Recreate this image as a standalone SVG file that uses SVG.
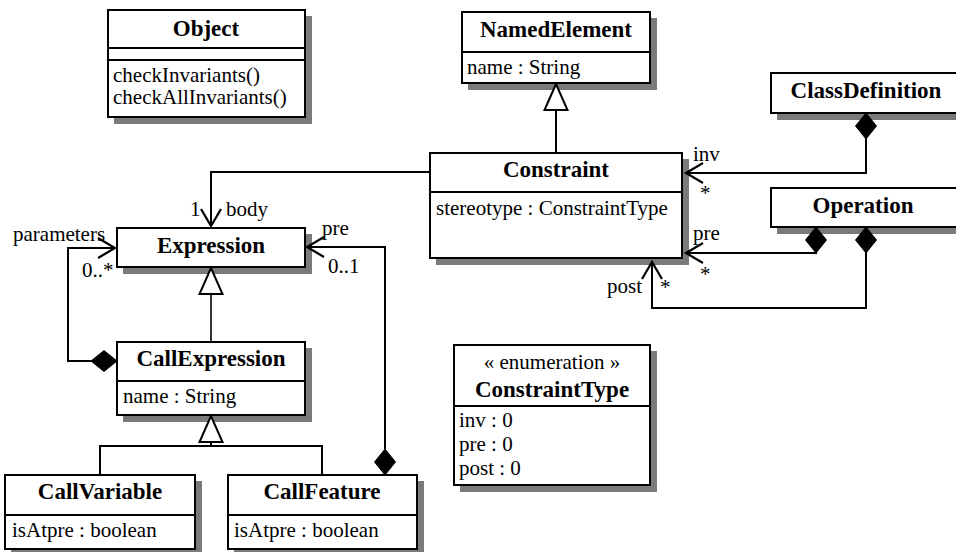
<svg xmlns="http://www.w3.org/2000/svg" width="956" height="552" viewBox="0 0 956 552">
<style>
.shd{fill:#7a7a7a;stroke:none}
.box{fill:#ffffff;stroke:#000000;stroke-width:2}
.sep{stroke:#000000;stroke-width:2}
.t{font-family:"Liberation Serif","Times New Roman",serif;font-size:21px;fill:#000000}
.b{font-weight:bold;font-size:23px;text-anchor:middle}
.m{text-anchor:middle}
.edge{fill:none;stroke:#000000;stroke-width:2}
.thin{stroke-width:1.6}
</style>
<defs>
<marker id="arrow" markerUnits="userSpaceOnUse" orient="auto" overflow="visible" markerWidth="20" markerHeight="22" refX="0" refY="0">
<path d="M-17,-10 L0,0 L-17,10" fill="none" stroke="#000" stroke-width="2.2"/>
</marker>
<marker id="diamond" markerUnits="userSpaceOnUse" orient="auto" overflow="visible" markerWidth="28" markerHeight="24" refX="0" refY="0">
<path d="M0,0 L13,-10.5 L26,0 L13,10.5 Z" fill="#000" stroke="#000" stroke-width="1"/>
</marker>
<marker id="tri" markerUnits="userSpaceOnUse" orient="auto" overflow="visible" markerWidth="28" markerHeight="26" refX="0" refY="0">
<path d="M0,0 L-26,-11.5 L-26,11.5 Z" fill="#fff" stroke="#000" stroke-width="2"/>
</marker>
</defs>

<g id="Object">
<rect class="shd" x="114" y="16" width="198" height="108"/>
<rect class="box" x="108" y="10" width="197" height="107"/>
<line class="sep" x1="108" y1="48" x2="305" y2="48"/>
<line class="sep" x1="108" y1="60" x2="305" y2="60"/>
<text class="t b" x="206" y="36">Object</text>
<text class="t" x="113" y="82">checkInvariants()</text>
<text class="t" x="113" y="104">checkAllInvariants()</text>
</g>

<g id="NamedElement">
<rect class="shd" x="468" y="18" width="189" height="72"/>
<rect class="box" x="462" y="12" width="188" height="71"/>
<line class="sep" x1="462" y1="52" x2="650" y2="52"/>
<text class="t b" x="556" y="37">NamedElement</text>
<text class="t" x="467" y="74">name : String</text>
</g>

<g id="ClassDefinition">
<rect class="shd" x="777" y="79" width="190" height="41"/>
<rect class="box" x="771" y="73" width="192" height="40"/>
<text class="t b" x="866" y="98">ClassDefinition</text>
</g>

<g id="Operation">
<rect class="shd" x="777" y="194" width="190" height="40"/>
<rect class="box" x="771" y="188" width="192" height="39"/>
<text class="t b" x="863" y="213">Operation</text>
</g>

<g id="Constraint">
<rect class="shd" x="436" y="159" width="253" height="106"/>
<rect class="box" x="430" y="153" width="252" height="105"/>
<line class="sep" x1="430" y1="192" x2="682" y2="192"/>
<text class="t b" x="556" y="177">Constraint</text>
<text class="t" x="436" y="215">stereotype : ConstraintType</text>
</g>

<g id="Expression">
<rect class="shd" x="123" y="234" width="189" height="40"/>
<rect class="box" x="117" y="228" width="188" height="39"/>
<text class="t b" x="211" y="253">Expression</text>
</g>

<g id="CallExpression">
<rect class="shd" x="123" y="348" width="189" height="74"/>
<rect class="box" x="117" y="342" width="188" height="73"/>
<line class="sep" x1="117" y1="381" x2="305" y2="381"/>
<text class="t b" x="211" y="366">CallExpression</text>
<text class="t" x="123" y="403">name : String</text>
</g>

<g id="CallVariable">
<rect class="shd" x="11" y="481" width="191" height="75"/>
<rect class="box" x="5" y="475" width="190" height="74"/>
<line class="sep" x1="5" y1="515" x2="195" y2="515"/>
<text class="t b" x="100" y="499">CallVariable</text>
<text class="t" x="12" y="537">isAtpre : boolean</text>
</g>

<g id="CallFeature">
<rect class="shd" x="234" y="481" width="190" height="75"/>
<rect class="box" x="228" y="475" width="189" height="74"/>
<line class="sep" x1="228" y1="515" x2="417" y2="515"/>
<text class="t b" x="322" y="499">CallFeature</text>
<text class="t" x="234" y="537">isAtpre : boolean</text>
</g>

<g id="ConstraintType">
<rect class="shd" x="460" y="351" width="197" height="141"/>
<rect class="box" x="454" y="345" width="196" height="140"/>
<line class="sep" x1="454" y1="406" x2="650" y2="406"/>
<text class="t m" x="552" y="369">« enumeration »</text>
<text class="t b" x="552" y="397">ConstraintType</text>
<text class="t" x="459" y="427">inv : 0</text>
<text class="t" x="459" y="451">pre : 0</text>
<text class="t" x="459" y="475">post : 0</text>
</g>

<g id="connectors">
<path class="edge" d="M556,153 V84" marker-end="url(#tri)"/>
<path class="edge" d="M430,172 H211 V226" marker-end="url(#arrow)"/>
<path class="edge" d="M866,113 V173 H686" marker-start="url(#diamond)" marker-end="url(#arrow)"/>
<path class="edge" d="M816,227 V253 H686" marker-start="url(#diamond)" marker-end="url(#arrow)"/>
<path class="edge" d="M866,227 V308 H652 V262" marker-start="url(#diamond)" marker-end="url(#arrow)"/>
<path class="edge thin" d="M211,342 V268" marker-end="url(#tri)"/>
<path class="edge" d="M117,361 H68 V248 H115" marker-start="url(#diamond)" marker-end="url(#arrow)"/>
<path class="edge" d="M100,475 V446 H322 V475"/>
<path class="edge" d="M211,446 V416" marker-end="url(#tri)"/>
<path class="edge" d="M385,475 V247 H307" marker-start="url(#diamond)" marker-end="url(#arrow)"/>
<text class="t" x="190" y="216">1</text>
<text class="t" x="226" y="216">body</text>
<text class="t" x="13" y="241">parameters</text>
<text class="t" x="82" y="277">0..*</text>
<text class="t" x="322" y="235">pre</text>
<text class="t" x="328" y="273">0..1</text>
<text class="t" x="693" y="161">inv</text>
<text class="t" x="700" y="200">*</text>
<text class="t" x="693" y="240">pre</text>
<text class="t" x="700" y="281">*</text>
<text class="t" x="607" y="293">post</text>
<text class="t" x="660" y="294">*</text>
</g>
</svg>
